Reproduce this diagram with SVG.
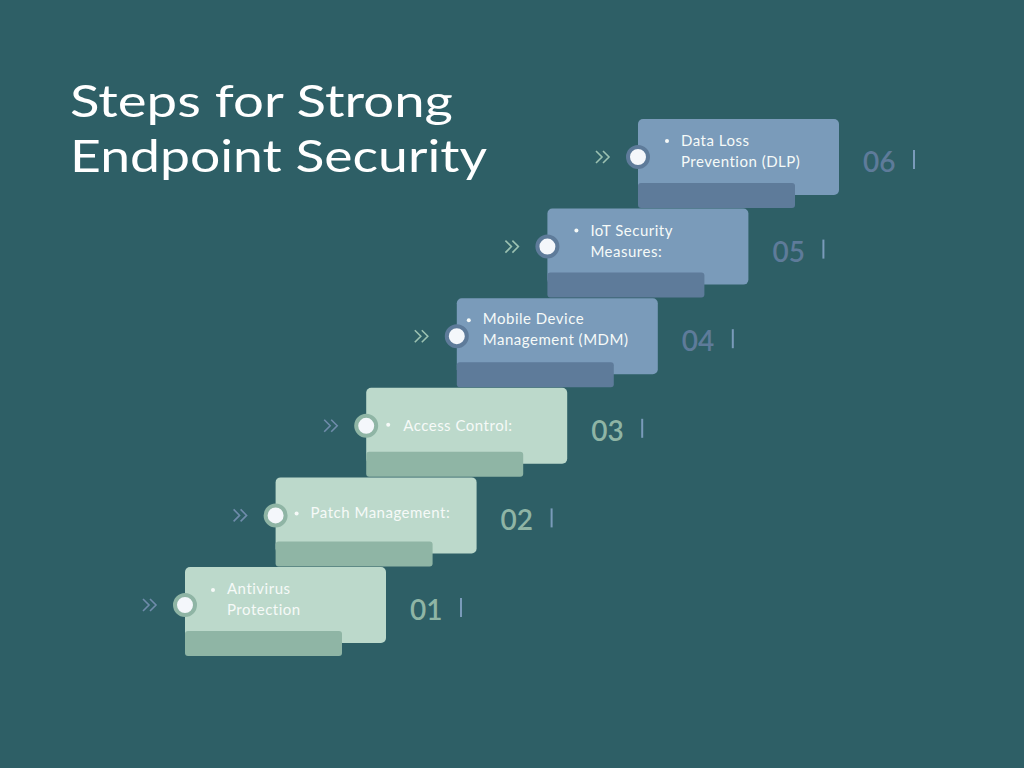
<svg xmlns="http://www.w3.org/2000/svg" width="1024" height="768" viewBox="0 0 1024 768">
<style>
.bg{fill:#2e5f66}
.title{font-family:Lato,"Liberation Sans",sans-serif;font-size:45px;fill:#ffffff}
.g .card{fill:#bcd9cb}
.g .bar{fill:#8fb5a5}
.b .card{fill:#7a9bba}
.b .bar{fill:#5e7b9a}
.lbl{font-family:Lato,"Liberation Sans",sans-serif;font-size:15px;letter-spacing:0.5px;fill:#f6faf8}
.dot{fill:#f6faf8}
.g .ring{fill:#f4f7fb;stroke:#8fb5a5;stroke-width:4}
.b .ring{fill:#f4f7fb;stroke:#5e7b9a;stroke-width:4}
.num{font-family:Lato,"Liberation Sans",sans-serif;font-size:28px;font-weight:600}
.g .num{fill:#8fb5a5}
.b .num{fill:#5e7b9a}
.vbar{stroke:#7a9bba;stroke-width:2}
.chev{fill:none;stroke-width:1.6}
.g .chev{stroke:#6f8cab}
.b .chev{stroke:#9bc1b1}
</style>
<rect class="bg" x="0" y="0" width="1024" height="768"/>
<g id="title">
<text class="title" x="70" y="117" textLength="383" lengthAdjust="spacingAndGlyphs">Steps for Strong</text>
<text class="title" x="70" y="172" textLength="417" lengthAdjust="spacingAndGlyphs">Endpoint Security</text>
</g>
<g id="connectors"></g>
<g id="step1" class="g" transform="translate(185,567)">
<rect class="card" x="0" y="0" width="201" height="76" rx="5"/>
<rect class="bar" x="0" y="64" width="157" height="25" rx="3"/>
<path class="chev" d="M-42,32 l6,6 l-6,6 M-35,32 l6,6 l-6,6"/>
<circle class="ring" cx="0" cy="38" r="10"/>
<circle class="dot" cx="28" cy="23" r="2"/>
<text class="lbl" x="42" y="27">Antivirus</text>
<text class="lbl" x="42" y="48">Protection</text>
<text class="num" x="225" y="53">01</text>
<line class="vbar" x1="276" y1="31" x2="276" y2="50"/>
</g>
<g id="step2" class="g" transform="translate(275.6,477.4)">
<rect class="card" x="0" y="0" width="201" height="76" rx="5"/>
<rect class="bar" x="0" y="64" width="157" height="25" rx="3"/>
<path class="chev" d="M-42,32 l6,6 l-6,6 M-35,32 l6,6 l-6,6"/>
<circle class="ring" cx="0" cy="38" r="10"/>
<circle class="dot" cx="21" cy="36" r="2"/>
<text class="lbl" x="35" y="41">Patch Management:</text>
<text class="num" x="225" y="53">02</text>
<line class="vbar" x1="276" y1="31" x2="276" y2="50"/>
</g>
<g id="step3" class="g" transform="translate(366.2,387.8)">
<rect class="card" x="0" y="0" width="201" height="76" rx="5"/>
<rect class="bar" x="0" y="64" width="157" height="25" rx="3"/>
<path class="chev" d="M-42,32 l6,6 l-6,6 M-35,32 l6,6 l-6,6"/>
<circle class="ring" cx="0" cy="38" r="10"/>
<circle class="dot" cx="22" cy="37" r="2"/>
<text class="lbl" x="37" y="43">Access Control:</text>
<text class="num" x="225" y="53">03</text>
<line class="vbar" x1="276" y1="31" x2="276" y2="50"/>
</g>
<g id="step4" class="b" transform="translate(456.8,298.2)">
<rect class="card" x="0" y="0" width="201" height="76" rx="5"/>
<rect class="bar" x="0" y="64" width="157" height="25" rx="3"/>
<path class="chev" d="M-42,32 l6,6 l-6,6 M-35,32 l6,6 l-6,6"/>
<circle class="ring" cx="0" cy="38" r="10"/>
<circle class="dot" cx="12" cy="22" r="2"/>
<text class="lbl" x="26" y="26">Mobile Device</text>
<text class="lbl" x="26" y="47">Management (MDM)</text>
<text class="num" x="225" y="53">04</text>
<line class="vbar" x1="276" y1="31" x2="276" y2="50"/>
</g>
<g id="step5" class="b" transform="translate(547.4,208.6)">
<rect class="card" x="0" y="0" width="201" height="76" rx="5"/>
<rect class="bar" x="0" y="64" width="157" height="25" rx="3"/>
<path class="chev" d="M-42,32 l6,6 l-6,6 M-35,32 l6,6 l-6,6"/>
<circle class="ring" cx="0" cy="38" r="10"/>
<circle class="dot" cx="29" cy="22" r="2"/>
<text class="lbl" x="43" y="27">IoT Security</text>
<text class="lbl" x="43" y="48">Measures:</text>
<text class="num" x="225" y="53">05</text>
<line class="vbar" x1="276" y1="31" x2="276" y2="50"/>
</g>
<g id="step6" class="b" transform="translate(638,119)">
<rect class="card" x="0" y="0" width="201" height="76" rx="5"/>
<rect class="bar" x="0" y="64" width="157" height="25" rx="3"/>
<path class="chev" d="M-42,32 l6,6 l-6,6 M-35,32 l6,6 l-6,6"/>
<circle class="ring" cx="0" cy="38" r="10"/>
<circle class="dot" cx="29" cy="22" r="2"/>
<text class="lbl" x="43" y="27">Data Loss</text>
<text class="lbl" x="43" y="48">Prevention (DLP)</text>
<text class="num" x="225" y="53">06</text>
<line class="vbar" x1="276" y1="31" x2="276" y2="50"/>
</g>
</svg>
